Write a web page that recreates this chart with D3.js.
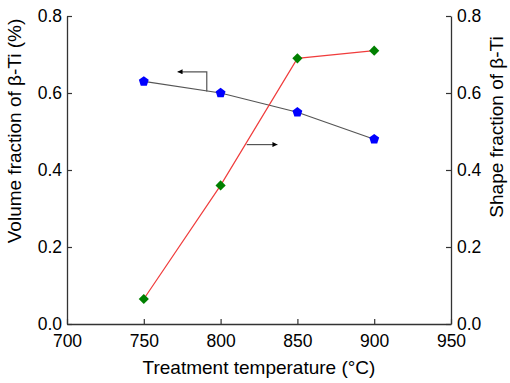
<!DOCTYPE html>
<html>
  <head>
    <meta charset="utf-8">
    <style>
      body { margin: 0; background: white; }
      svg text { font-family: "Liberation Sans", Arial, sans-serif; fill: #000; }
      .tick text { font-size: 17.5px; }
      .axisLabel { font-size: 19px; }
    </style>
  </head>
  <body>
  <svg id="chart"></svg>
  <script src="https://d3js.org/d3.v7.min.js"></script>
  <script>
    // values
    var temps = [750, 800, 850, 900];
    var volumeFraction = [0.63, 0.60, 0.55, 0.48];
    var shapeFraction = [0.065, 0.36, 0.69, 0.71];
    var xTicks = [700, 750, 800, 850, 900, 950];
    var yTicks = [0, 0.2, 0.4, 0.6, 0.8];

    var W = 510, H = 383;
    var margin = {top: 16, right: 59, bottom: 59, left: 67};
    var width = W - margin.left - margin.right;
    var height = H - margin.top - margin.bottom;

    var svg = d3.select("#chart").attr("width", W).attr("height", H);
    var g = svg.append("g").attr("transform", "translate(" + margin.left + "," + margin.top + ")");

    var x = d3.scaleLinear().domain([700, 950]).range([0, width]);
    var yL = d3.scaleLinear().domain([0, 0.8]).range([height, 0]);
    var yR = d3.scaleLinear().domain([0, 0.8]).range([height, 0]);

    function styleAxis(sel) {
      sel.select(".domain").attr("stroke", "#333").attr("stroke-width", 1.3);
      sel.selectAll(".tick line").attr("stroke", "#333").attr("stroke-width", 1.2);
    }

    g.append("g")
      .attr("transform", "translate(0," + height + ")")
      .call(d3.axisBottom(x).tickValues(xTicks).tickSizeInner(-5).tickSizeOuter(0).tickPadding(10.5))
      .call(styleAxis);

    g.append("g")
      .call(d3.axisLeft(yL).tickValues(yTicks).tickFormat(d3.format(".1f")).tickSizeInner(-5).tickSizeOuter(0).tickPadding(5))
      .call(styleAxis);

    g.append("g")
      .attr("transform", "translate(" + width + ",0)")
      .call(d3.axisRight(yR).tickValues(yTicks).tickFormat(d3.format(".1f")).tickSizeInner(-5).tickSizeOuter(0).tickPadding(6))
      .call(styleAxis);

    g.selectAll(".tick text").attr("fill", "#000");

    // arrow marker
    svg.append("defs").append("marker")
      .attr("id", "arrow")
      .attr("viewBox", "0 0 10 10")
      .attr("refX", 10).attr("refY", 5)
      .attr("markerWidth", 9).attr("markerHeight", 5)
      .attr("markerUnits", "userSpaceOnUse")
      .attr("orient", "auto")
      .append("path").attr("d", "M0,0 L10,5 L0,10 z").attr("fill", "#000");

    var volData = temps.map(function(t, i) { return [t, volumeFraction[i]]; });
    var shapeData = temps.map(function(t, i) { return [t, shapeFraction[i]]; });

    g.append("path")
      .datum(volData)
      .attr("fill", "none").attr("stroke", "#555").attr("stroke-width", 1.2)
      .attr("d", d3.line().x(function(d) { return x(d[0]); }).y(function(d) { return yL(d[1]); }));

    g.append("path")
      .datum(shapeData)
      .attr("fill", "none").attr("stroke", "#f03c3c").attr("stroke-width", 1.2)
      .attr("d", d3.line().x(function(d) { return x(d[0]); }).y(function(d) { return yR(d[1]); }));

    // annotation arrows (data units)
    var arrowLeft = [[791, 0.604], [791, 0.655], [772, 0.655]];
    var arrowRight = [[817, 0.466], [837, 0.466]];

    g.append("path")
      .attr("fill", "none").attr("stroke", "#555").attr("stroke-width", 1.2)
      .attr("marker-end", "url(#arrow)")
      .attr("d", d3.line().x(function(d) { return x(d[0]); }).y(function(d) { return yL(d[1]); })(arrowLeft));

    g.append("path")
      .attr("fill", "none").attr("stroke", "#555").attr("stroke-width", 1.2)
      .attr("marker-end", "url(#arrow)")
      .attr("d", d3.line().x(function(d) { return x(d[0]); }).y(function(d) { return yR(d[1]); })(arrowRight));

    var pentagon = d3.symbol().type(d3.symbolPentagon || {
      draw: function(ctx, size) {
        var r = Math.sqrt(size / 2.378);
        for (var k = 0; k < 5; k++) {
          var a = -Math.PI / 2 + k * 2 * Math.PI / 5;
          if (k === 0) ctx.moveTo(r * Math.cos(a), r * Math.sin(a));
          else ctx.lineTo(r * Math.cos(a), r * Math.sin(a));
        }
        ctx.closePath();
      }
    }).size(64);

    g.selectAll(".vol")
      .data(volData)
      .enter().append("path")
      .attr("class", "vol")
      .attr("transform", function(d) { return "translate(" + x(d[0]) + "," + yL(d[1]) + ")"; })
      .attr("d", pentagon)
      .attr("fill", "#0000ff");

    g.selectAll(".shape")
      .data(shapeData)
      .enter().append("rect")
      .attr("class", "shape")
      .attr("x", -3.6).attr("y", -3.6).attr("width", 7.2).attr("height", 7.2)
      .attr("transform", function(d) { return "translate(" + x(d[0]) + "," + yR(d[1]) + ") rotate(45)"; })
      .attr("fill", "#008000");

    svg.append("text")
      .attr("class", "axisLabel")
      .attr("text-anchor", "middle")
      .attr("x", margin.left + width / 2)
      .attr("y", 374)
      .text("Treatment temperature (°C)");

    svg.append("text")
      .attr("class", "axisLabel")
      .attr("text-anchor", "middle")
      .attr("transform", "translate(21,131) rotate(-90)")
      .text("Volume fraction of β-Ti (%)");

    svg.append("text")
      .attr("class", "axisLabel")
      .attr("text-anchor", "middle")
      .attr("transform", "translate(503,127) rotate(-90)")
      .text("Shape fraction of β-Ti");
  </script>
  </body>
</html>
